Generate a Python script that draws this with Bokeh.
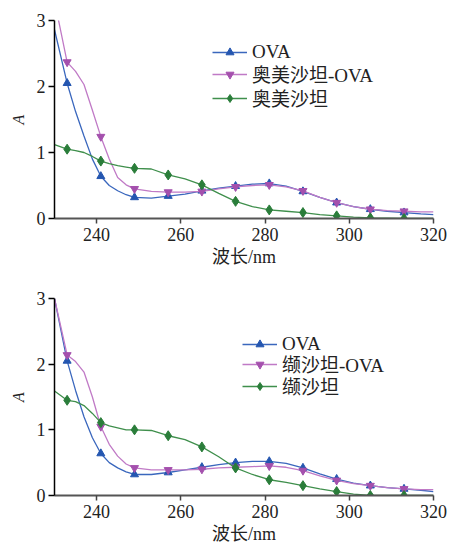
from bokeh.plotting import figure
from bokeh.layouts import column
from bokeh.models import Range1d, Legend, LegendItem, FixedTicker
from bokeh.embed import file_html
from bokeh.resources import INLINE

# wavelength grid (nm) for the curves
wl = [230, 233, 235, 237, 239, 241, 243, 245, 247, 249, 253, 257, 261, 265,
      269, 273, 277, 281, 285, 289, 293, 297, 301, 305, 309, 313, 317, 320]
# wavelengths carrying markers
marker_wl = [233, 241, 249, 257, 265, 273, 281, 289, 297, 305, 313]

# top panel
top_ova = [2.86, 2.05, 1.62, 1.25, 0.90, 0.64, 0.50, 0.42, 0.36, 0.32, 0.31, 0.34, 0.37, 0.42,
           0.46, 0.49, 0.52, 0.53, 0.49, 0.41, 0.32, 0.24, 0.18, 0.14, 0.11, 0.09, 0.07, 0.06]
top_mix = [3.30, 2.37, 2.23, 2.03, 1.64, 1.24, 0.90, 0.62, 0.51, 0.45, 0.41, 0.40, 0.40, 0.41,
           0.45, 0.48, 0.50, 0.51, 0.48, 0.42, 0.32, 0.24, 0.18, 0.14, 0.12, 0.11, 0.10, 0.10]
top_drug = [1.12, 1.05, 1.03, 1.00, 0.94, 0.87, 0.83, 0.80, 0.78, 0.76, 0.75, 0.66, 0.60, 0.51,
            0.38, 0.26, 0.18, 0.13, 0.11, 0.09, 0.06, 0.04, 0.02, 0.01, 0.005, 0.0, 0.0, 0.0]
top_labels = ["OVA", "奥美沙坦-OVA", "奥美沙坦"]

# bottom panel
bot_ova = [3.00, 2.05, 1.60, 1.20, 0.88, 0.64, 0.50, 0.42, 0.36, 0.32, 0.32, 0.35, 0.39, 0.43,
           0.47, 0.50, 0.52, 0.52, 0.49, 0.42, 0.33, 0.25, 0.19, 0.15, 0.12, 0.10, 0.08, 0.06]
bot_mix = [3.00, 2.14, 2.04, 1.88, 1.50, 1.05, 0.78, 0.60, 0.48, 0.42, 0.39, 0.39, 0.39, 0.40,
           0.42, 0.43, 0.44, 0.45, 0.43, 0.38, 0.30, 0.23, 0.18, 0.15, 0.12, 0.10, 0.09, 0.09]
bot_drug = [1.59, 1.45, 1.43, 1.37, 1.25, 1.11, 1.06, 1.03, 1.00, 1.00, 0.99, 0.91, 0.85, 0.74,
            0.59, 0.42, 0.32, 0.24, 0.20, 0.15, 0.10, 0.06, 0.02, 0.0, 0.0, 0.0, 0.0, 0.0]
bot_labels = ["OVA", "缬沙坦-OVA", "缬沙坦"]

x_ticks = [240, 260, 280, 300, 320]
y_ticks = [0, 1, 2, 3]
x_title = "波长/nm"
y_title = "A"

FONT = "Liberation Serif, Noto Sans CJK SC"
BLUE_L, BLUE_M = "#3a67bd", "#2456b0"
PINK_L, PINK_M = "#c07ac6", "#a450ad"
GREEN_L, GREEN_M = "#3f8f4c", "#2a7d3a"


def panel(series, labels, top_b, frame_h, bottom_b, leg_x, leg_ys):
    p = figure(frame_width=379, frame_height=frame_h,
               min_border_left=54, min_border_right=17,
               min_border_top=top_b, min_border_bottom=bottom_b,
               x_range=Range1d(230, 320), y_range=Range1d(0, 3),
               output_backend="svg", toolbar_location=None)
    p.grid.visible = False
    p.outline_line_color = None
    p.background_fill_color = "white"
    p.border_fill_color = "white"

    xa = p.xaxis[0]
    xa.ticker = FixedTicker(ticks=x_ticks)
    xa.axis_line_color = "#555555"
    xa.axis_line_width = 2
    xa.major_tick_line_color = "#444444"
    xa.major_tick_line_width = 1.5
    xa.major_tick_in = 0
    xa.major_tick_out = 5
    xa.minor_tick_line_color = None
    xa.major_label_text_font = FONT
    xa.major_label_text_font_size = "18px"
    xa.major_label_text_color = "#222222"
    xa.major_label_standoff = 4
    xa.axis_label = x_title
    xa.axis_label_text_font = FONT
    xa.axis_label_text_font_size = "18px"
    xa.axis_label_text_font_style = "normal"
    xa.axis_label_text_color = "#222222"
    xa.axis_label_standoff = 3

    ya = p.yaxis[0]
    ya.ticker = FixedTicker(ticks=y_ticks)
    ya.axis_line_color = "black"
    ya.axis_line_width = 1.5
    ya.major_tick_line_color = "black"
    ya.major_tick_line_width = 1.5
    ya.major_tick_in = 0
    ya.major_tick_out = 6
    ya.minor_tick_line_color = None
    ya.major_label_text_font = FONT
    ya.major_label_text_font_size = "18px"
    ya.major_label_text_color = "#222222"
    ya.major_label_standoff = 3
    ya.axis_label = y_title
    ya.axis_label_text_font = FONT
    ya.axis_label_text_font_size = "16px"
    ya.axis_label_text_font_style = "italic"
    ya.axis_label_text_color = "#222222"
    ya.axis_label_standoff = 7

    styles = [(BLUE_L, BLUE_M, "triangle"),
              (PINK_L, PINK_M, "inverted_triangle"),
              (GREEN_L, GREEN_M, "diamond")]
    for vals, lab, (lc, mc, mk), ly in zip(series, labels, styles, leg_ys):
        ln = p.line(wl, vals, line_color=lc, line_width=1.3)
        mx = [w for w in wl if w in marker_wl]
        my = [v for w, v in zip(wl, vals) if w in marker_wl]
        sz = 10 if mk == "diamond" else 8
        sc = p.scatter(mx, my, marker=mk, size=sz, fill_color=mc, line_color=mc)

        leg = Legend(items=[LegendItem(label=lab, renderers=[ln, sc])],
                     location=(leg_x, ly))
        leg.border_line_color = None
        leg.background_fill_alpha = 0
        leg.padding = 0
        leg.margin = 0
        leg.glyph_width = 35
        leg.glyph_height = 20
        leg.label_height = 20
        leg.label_standoff = 5
        leg.label_text_font = FONT
        leg.label_text_font_size = "19px"
        leg.label_text_color = "#222222"
        p.add_layout(leg)
    return p


p1 = panel([top_ova, top_mix, top_drug], top_labels, 20, 198, 55, 158, [155, 131, 107])
p2 = panel([bot_ova, bot_mix, bot_drug], bot_labels, 25, 197, 51, 188, [140, 118, 96])

layout = column(p1, p2, spacing=0)
open("out.html", "w").write(file_html(layout, INLINE))
